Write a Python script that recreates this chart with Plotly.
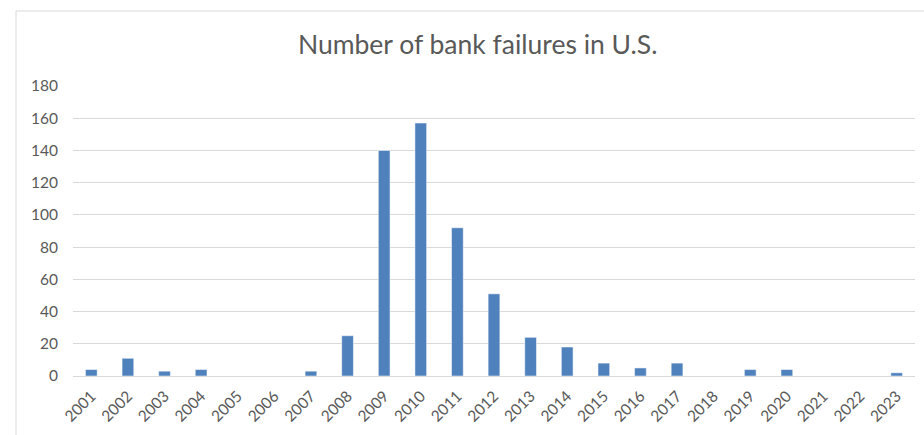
import plotly.graph_objects as go

years = [str(y) for y in range(2001, 2024)]
failures = [4, 11, 3, 4, 0, 0, 3, 25, 140, 157, 92, 51, 24, 18, 8, 5, 8, 0, 4, 4, 0, 0, 2]
y_ticks = list(range(0, 181, 20))

W, H = 924, 435
L, R, T, B = 73, 915, 86, 376
pw, ph = R - L, B - T

def px(x):
    return (x - L) / pw

def py(y):
    return (B - y) / ph

fig = go.Figure(go.Bar(
    x=years, y=failures,
    marker=dict(color="#4F81BD", line=dict(color="#FFFFFF", width=0.5)),
    width=0.32,
))

fig.update_layout(
    width=W, height=H,
    margin=dict(l=L, r=W - R, t=T, b=H - B),
    paper_bgcolor="white", plot_bgcolor="white",
    font=dict(family="Lato, 'Open Sans', sans-serif", color="#595959"),
    title=dict(text="Number of bank failures in U.S.", x=0.517, xanchor="center",
               y=1 - 45 / H, yanchor="middle",
               font=dict(size=26.5, color="#595959", family="Lato, sans-serif")),
    showlegend=False,
    shapes=[dict(type="rect", xref="paper", yref="paper",
                 x0=px(16), x1=px(940), y0=py(450), y1=py(11),
                 line=dict(color="#D9D9D9", width=1), fillcolor="rgba(0,0,0,0)",
                 layer="below")],
)

fig.update_xaxes(
    type="category", tickangle=-45, showgrid=False,
    showline=True, linecolor="#D9D9D9", linewidth=1,
    tickfont=dict(size=15.5, color="#595959"), ticks="", ticklabelstandoff=4,
)
fig.update_yaxes(
    range=[0, 180], tickvals=y_ticks, showgrid=True, gridcolor="#D9D9D9",
    gridwidth=1, zeroline=False, showline=False,
    tickfont=dict(size=15.5, color="#595959"), ticks="", ticklabelstandoff=14,
)

fig.write_html("out.html")
